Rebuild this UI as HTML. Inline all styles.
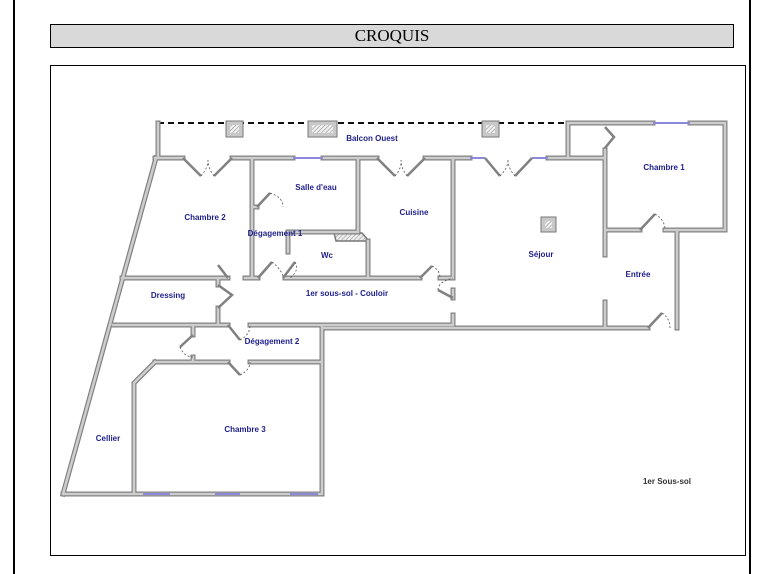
<!DOCTYPE html>
<html><head><meta charset="utf-8"><style>
html,body{margin:0;padding:0;background:#fff;}
body{width:774px;height:574px;position:relative;overflow:hidden;font-family:"Liberation Sans",sans-serif;}
.vl{position:absolute;top:0;width:2px;height:574px;background:#000;}
#hdr{position:absolute;left:50px;top:24px;width:682px;height:22px;background:#d9d9d9;border:1px solid #000;text-align:center;font:17px/22px "Liberation Serif",serif;color:#000;}
#frame{position:absolute;left:50px;top:65px;width:694px;height:489px;border:1px solid #000;}
svg{position:absolute;left:0;top:0;}
.l{font:bold 8px "Liberation Sans",sans-serif;fill:#1e1e8c;text-anchor:middle;}
</style></head><body>
<div class="vl" style="left:13px"></div>
<div class="vl" style="left:749px"></div>
<div id="hdr">CROQUIS</div>
<div id="frame"></div>
<svg width="774" height="574" viewBox="0 0 774 574">
<defs>
<pattern id="h" width="3" height="3" patternUnits="userSpaceOnUse" patternTransform="rotate(45)"><rect width="3" height="3" fill="#eee"/><line x1="0" y1="0" x2="0" y2="3" stroke="#888" stroke-width="1"/></pattern>
<path id="w" d="M158,123 V156 M156,158 L63,494 M63,494 H322 M155,158 H183 M232,158 H293 M323,158 H377 M425,158 H470 M548,158 H605 M568,123 V158 M568,123 H653 M690,123 H725 V230 H665 M640,230 H605 M605,150 V255 M605,302 V328 M677,230 V328 M648,328 H322 M453,158 V278 M453,290 V298 M453,315 V325 M252,158 V278 M358,158 V232 H288 V252 M252,207 H257 M368,241 V278 M122,278 H228 M245,278 H258 M285,278 H420 M440,278 H453 M218,278 V285 M218,308 V325 M113,325 H228 M250,325 H453 M322,325 V494 M193,325 V335 M193,357 V362 M155,362 H228 M250,362 H322 M155,362 L134,383 V494"/>
</defs>
<!-- balcony dashed -->
<line x1="158" y1="123" x2="568" y2="123" stroke="#111" stroke-width="2" stroke-dasharray="6,4"/>
<g fill="#c8c8c8" stroke="#777" stroke-width="1">
<rect x="226" y="121" width="17" height="16"/><rect x="308" y="121" width="29" height="16"/><rect x="482" y="121" width="17" height="16"/><rect x="541" y="217" width="15" height="15"/>
</g>
<g fill="url(#h)"><rect x="230" y="125" width="9" height="8"/><rect x="312" y="125" width="21" height="8"/><rect x="486" y="125" width="9" height="8"/><rect x="545" y="221" width="7" height="7"/>
<polygon points="334,233 362,233 369,241 336,241" stroke="#777" stroke-width="1.5"/></g>
<!-- walls -->
<g fill="none" stroke-linecap="square">
<use href="#w" stroke="#808080" stroke-width="5"/>
<use href="#w" stroke="#cdcdcd" stroke-width="2.6"/>
</g>
<!-- windows -->
<g stroke="#8a8ad8" stroke-width="2">
<line x1="293" y1="158" x2="323" y2="158"/><line x1="653" y1="123" x2="690" y2="123"/>
<line x1="470" y1="158" x2="485" y2="158"/><line x1="532" y1="158" x2="548" y2="158"/>
<line x1="143" y1="494" x2="170" y2="494"/><line x1="215" y1="494" x2="240" y2="494"/><line x1="290" y1="494" x2="318" y2="494"/>
</g>
<!-- door leaves -->
<g stroke="#808080" stroke-width="2.5" fill="none">
<path d="M183,158 L201,176 M232,158 L214,176 M377,158 L395,176 M425,158 L407,176 M485,158 L500,176 M532,158 L515,176"/>
<path d="M605,127 L614,137 L605,148 M640,230 L655,214 M648,328 L662,313 M453,298 L438,290 M258,278 L272,262 M228,278 L218,265 M283,278 L295,262 M257,207 L270,193 M420,278 L432,266 M218,285 L232,295 L218,308 M193,335 L180,347 M228,362 L240,375 M228,325 L240,340"/>
</g>
<g stroke="#555" stroke-width="0.8" fill="none" stroke-dasharray="2,2">
<path d="M201,176 Q208,168 208,160 M214,176 Q208,168 208,160 M395,176 Q402,168 401,160 M407,176 Q401,168 401,160 M500,176 Q508,168 508,160 M515,176 Q508,168 508,160"/>
<path d="M655,214 Q665,220 665,230 M662,313 Q670,318 670,328 M438,290 Q438,282 453,278 M272,262 Q280,268 283,276 M295,262 Q300,270 290,278 M270,193 Q283,197 283,207 M432,266 Q440,270 440,278 M180,347 Q184,357 193,357 M240,375 Q250,370 250,362 M240,340 Q250,335 250,325"/>
</g>
<!-- labels -->
<text class="l" x="372" y="141">Balcon Ouest</text>
<text class="l" x="664" y="170">Chambre 1</text>
<text class="l" x="316" y="190">Salle d'eau</text>
<text class="l" x="205" y="220">Chambre 2</text>
<text class="l" x="414" y="215">Cuisine</text>
<text class="l" x="275" y="236">Dégagement 1</text>
<text class="l" x="327" y="258">Wc</text>
<text class="l" x="541" y="257">Séjour</text>
<text class="l" x="638" y="277">Entrée</text>
<text class="l" x="168" y="298">Dressing</text>
<text class="l" x="347" y="296">1er sous-sol - Couloir</text>
<text class="l" x="272" y="344">Dégagement 2</text>
<text class="l" x="245" y="432">Chambre 3</text>
<text class="l" x="108" y="441">Cellier</text>
<text class="l" x="667" y="484" style="fill:#333">1er Sous-sol</text>
</svg>
</body></html>
